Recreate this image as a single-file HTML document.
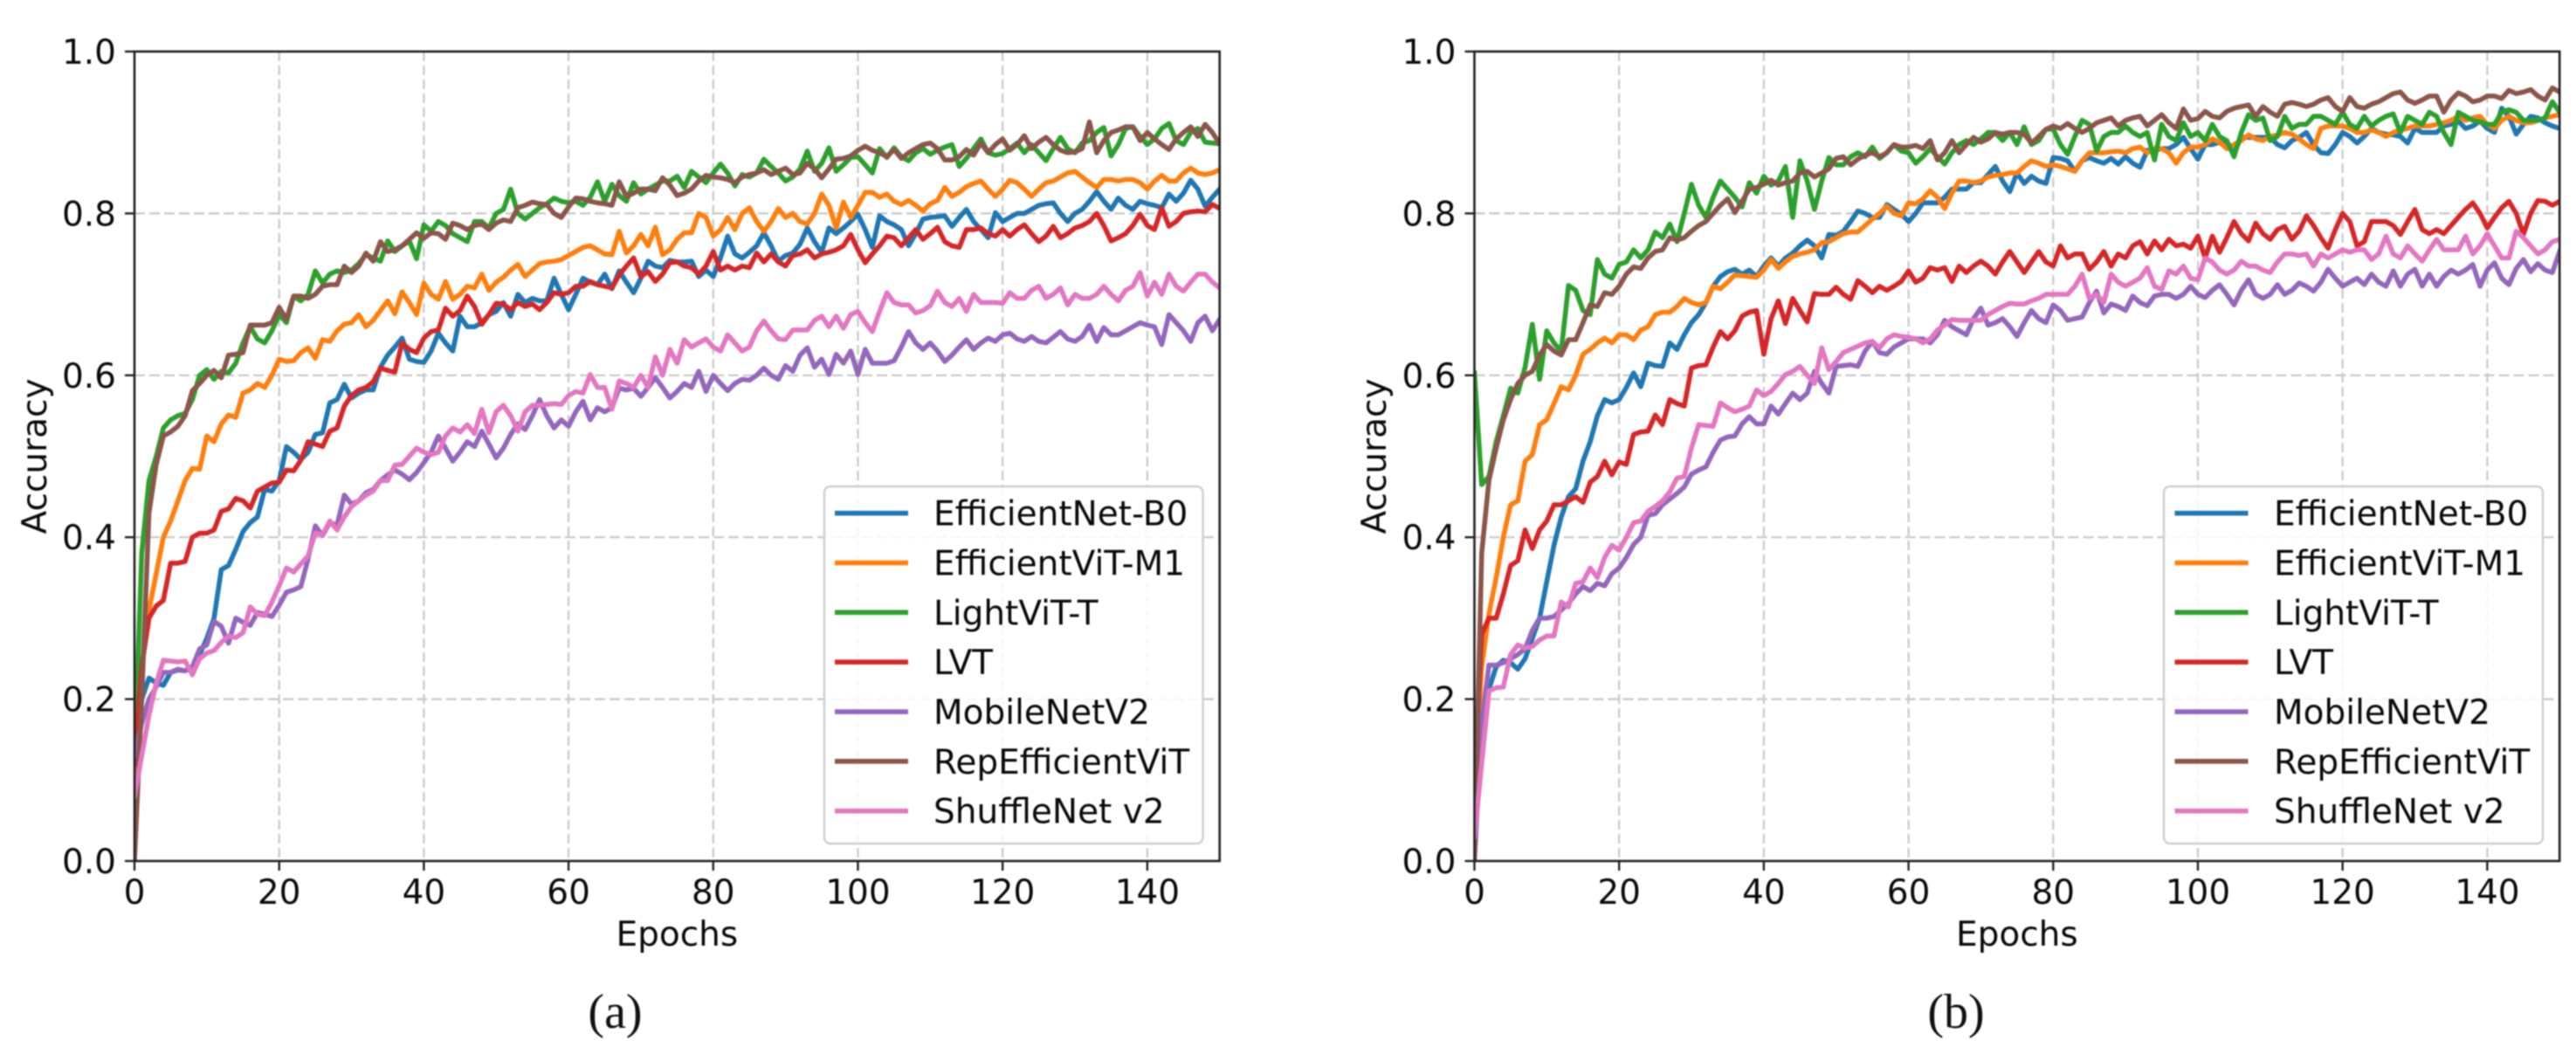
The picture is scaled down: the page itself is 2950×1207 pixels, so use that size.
<!DOCTYPE html>
<html lang="en">
<head>
<meta charset="utf-8">
<title>Accuracy vs Epochs</title>
<style>
html,body{margin:0;padding:0;background:#fff;width:2950px;height:1207px;overflow:hidden}
svg{display:block;filter:blur(0.9px)}
text{font-family:"DejaVu Sans","Liberation Sans",sans-serif;fill:#0a0a0a}
text.caption{font-family:"Liberation Serif",serif;fill:#111}
</style>
</head>
<body>
<svg id="fig" xmlns="http://www.w3.org/2000/svg" width="2950" height="1207" viewBox="0 0 2950 1207">
<rect width="2950" height="1207" fill="#fff"/>
</svg>
<script>
const seriesNames = ["EfficientNet-B0","EfficientViT-M1","LightViT-T","LVT","MobileNetV2","RepEfficientViT","ShuffleNet v2"];
const epochTicks = [0,20,40,60,80,100,120,140];
const accuracyTicks = [0.0,0.2,0.4,0.6,0.8,1.0];
const accuracyTickLabels = ["0.0","0.2","0.4","0.6","0.8","1.0"];
const panelCaptions = ["(a)","(b)"];

/* Panel (a) accuracy per epoch, index = epoch 0..150 */
const efficientNetB0A = [
.13,.2,.226,.22,.217,.233,.236,.235,.24,.255,
.275,.30,.36,.365,.385,.407,.418,.425,.459,.457,
.47,.512,.505,.496,.505,.527,.529,.566,.57,.589,
.572,.578,.582,.582,.61,.625,.635,.646,.62,.617,
.616,.63,.652,.64,.63,.673,.66,.66,.665,.675,
.679,.69,.673,.70,.69,.695,.692,.692,.72,.70,
.681,.70,.72,.715,.712,.725,.707,.729,.715,.702,
.72,.741,.735,.733,.742,.74,.74,.741,.722,.73,
.722,.745,.772,.75,.745,.752,.76,.776,.76,.741,
.748,.751,.762,.782,.765,.752,.782,.775,.782,.79,
.799,.78,.758,.797,.79,.786,.78,.76,.775,.793,
.795,.796,.797,.784,.795,.805,.79,.78,.77,.801,
.79,.795,.80,.80,.805,.81,.812,.813,.80,.79,
.80,.805,.815,.827,.815,.805,.819,.81,.805,.815,
.812,.81,.807,.824,.815,.825,.841,.83,.809,.82,.83];
const efficientViTM1A = [
.08,.24,.31,.355,.40,.42,.445,.47,.485,.484,
.525,.518,.54,.551,.548,.578,.582,.59,.585,.60,
.62,.617,.618,.628,.634,.621,.644,.642,.655,.663,
.665,.675,.66,.668,.68,.692,.676,.703,.69,.675,
.714,.70,.694,.716,.694,.70,.71,.708,.725,.705,
.715,.721,.73,.737,.722,.73,.738,.74,.741,.743,
.748,.753,.758,.76,.755,.75,.749,.778,.751,.76,
.774,.76,.783,.749,.755,.768,.776,.776,.80,.795,
.772,.78,.795,.78,.80,.807,.79,.778,.79,.806,
.795,.80,.79,.787,.80,.824,.81,.782,.814,.795,
.81,.826,.826,.82,.824,.815,.811,.816,.81,.803,
.812,.816,.832,.821,.826,.833,.837,.84,.83,.821,
.83,.841,.838,.83,.821,.83,.838,.84,.845,.85,
.852,.845,.838,.832,.842,.842,.84,.842,.842,.838,
.83,.84,.847,.84,.84,.85,.856,.85,.848,.85,.854];
const lightViTTA = [
.12,.38,.47,.50,.535,.545,.55,.553,.57,.60,
.607,.595,.605,.603,.615,.64,.66,.645,.64,.655,
.675,.665,.698,.692,.70,.729,.714,.725,.729,.727,
.73,.738,.749,.745,.741,.766,.753,.76,.766,.744,
.786,.778,.79,.785,.775,.77,.765,.79,.79,.782,
.80,.805,.83,.80,.793,.80,.807,.812,.819,.815,
.813,.815,.81,.82,.839,.815,.836,.822,.815,.838,
.824,.83,.835,.84,.84,.846,.832,.852,.845,.838,
.85,.861,.85,.834,.848,.845,.85,.867,.858,.85,
.84,.845,.855,.877,.852,.862,.881,.852,.86,.869,
.87,.86,.85,.88,.869,.881,.87,.865,.875,.88,
.873,.878,.882,.885,.858,.868,.88,.892,.875,.872,
.874,.88,.887,.875,.885,.875,.865,.88,.894,.88,
.875,.887,.89,.90,.906,.871,.885,.905,.907,.895,
.885,.892,.905,.911,.89,.885,.90,.905,.888,.887,.886];
const lvtA = [
.12,.24,.30,.315,.322,.368,.368,.37,.40,.405,
.405,.409,.432,.435,.448,.445,.436,.457,.462,.467,
.468,.483,.482,.495,.518,.515,.512,.531,.535,.562,
.575,.582,.585,.592,.609,.606,.604,.64,.632,.628,
.646,.654,.656,.683,.673,.68,.698,.685,.663,.675,
.689,.688,.681,.69,.685,.688,.681,.69,.702,.70,
.702,.71,.71,.716,.712,.71,.708,.724,.735,.745,
.722,.728,.716,.725,.739,.74,.735,.733,.725,.735,
.753,.73,.735,.73,.735,.733,.751,.74,.75,.74,
.735,.748,.75,.755,.745,.75,.752,.755,.76,.774,
.755,.739,.75,.76,.772,.77,.76,.77,.78,.768,
.775,.783,.765,.76,.758,.78,.78,.782,.775,.772,
.78,.772,.78,.786,.775,.765,.772,.784,.77,.775,
.782,.785,.79,.80,.785,.766,.77,.775,.785,.799,
.785,.78,.807,.784,.79,.80,.802,.803,.802,.811,.806];
const mobileNetV2A = [
.13,.17,.20,.215,.233,.233,.237,.235,.24,.262,
.267,.296,.29,.269,.30,.295,.291,.307,.305,.302,
.316,.332,.335,.339,.373,.414,.402,.418,.415,.452,
.441,.445,.455,.459,.47,.477,.483,.478,.471,.48,
.492,.505,.525,.51,.494,.505,.518,.512,.531,.515,
.498,.51,.527,.54,.533,.55,.57,.55,.535,.545,
.537,.555,.568,.545,.56,.555,.56,.584,.582,.584,
.574,.585,.597,.585,.572,.58,.59,.585,.605,.58,
.60,.59,.581,.59,.595,.594,.60,.609,.60,.595,
.612,.605,.625,.634,.61,.62,.601,.626,.615,.63,
.601,.632,.615,.615,.615,.618,.635,.654,.64,.632,
.64,.63,.617,.625,.635,.644,.632,.64,.646,.642,
.65,.652,.645,.642,.648,.642,.64,.647,.654,.645,
.642,.648,.662,.642,.659,.65,.65,.655,.66,.665,
.662,.66,.638,.675,.665,.655,.642,.665,.673,.655,.669];
const repEfficientViTA = [
.0,.2,.43,.49,.525,.53,.537,.55,.581,.59,
.60,.606,.597,.625,.626,.628,.662,.662,.662,.665,
.684,.669,.698,.698,.695,.70,.71,.712,.712,.735,
.727,.735,.751,.741,.765,.753,.755,.76,.768,.776,
.769,.776,.775,.768,.788,.785,.78,.785,.787,.78,
.788,.792,.79,.807,.81,.814,.812,.811,.80,.795,
.808,.819,.818,.815,.813,.812,.81,.839,.821,.825,
.83,.83,.828,.844,.835,.822,.825,.83,.84,.847,
.845,.844,.842,.838,.845,.848,.85,.854,.848,.852,
.856,.848,.85,.862,.855,.844,.855,.867,.868,.871,
.878,.883,.878,.875,.87,.879,.868,.875,.88,.885,
.887,.88,.866,.866,.87,.879,.872,.887,.875,.885,
.892,.878,.885,.896,.88,.888,.894,.885,.878,.875,
.876,.88,.913,.875,.89,.90,.903,.907,.907,.89,
.90,.892,.885,.879,.892,.90,.907,.895,.91,.90,.886];
const shuffleNetV2A = [
.08,.13,.18,.22,.248,.247,.246,.247,.23,.25,
.257,.26,.27,.278,.276,.282,.314,.305,.303,.32,
.34,.362,.357,.367,.377,.405,.403,.42,.409,.425,
.438,.445,.452,.457,.47,.47,.489,.49,.50,.51,
.505,.502,.505,.525,.535,.53,.539,.528,.558,.529,
.555,.563,.55,.531,.555,.563,.563,.564,.565,.564,
.575,.58,.578,.601,.585,.585,.558,.593,.59,.585,
.60,.585,.623,.60,.632,.615,.644,.635,.64,.645,
.635,.63,.65,.64,.63,.635,.655,.667,.655,.645,
.644,.656,.656,.656,.668,.673,.66,.673,.658,.675,
.679,.665,.654,.679,.702,.69,.687,.687,.677,.68,
.686,.704,.69,.685,.695,.679,.70,.69,.69,.69,
.689,.702,.695,.695,.705,.71,.695,.70,.708,.687,
.70,.695,.695,.70,.71,.70,.692,.705,.71,.727,
.698,.715,.70,.725,.71,.704,.715,.725,.725,.715,.708];

/* Panel (b) accuracy per epoch, index = epoch 0..150 */
const efficientNetB0B = [
.09,.19,.212,.24,.248,.245,.237,.25,.275,.30,
.345,.39,.425,.45,.46,.494,.518,.55,.57,.566,
.57,.585,.603,.586,.615,.612,.611,.64,.632,.65,
.665,.675,.69,.71,.722,.728,.731,.725,.73,.722,
.735,.745,.735,.745,.751,.76,.767,.76,.745,.774,
.773,.778,.79,.803,.80,.795,.795,.811,.805,.799,
.79,.80,.813,.813,.813,.82,.83,.83,.83,.838,
.838,.848,.858,.84,.827,.85,.837,.846,.84,.837,
.869,.868,.865,.852,.865,.869,.865,.862,.868,.861,
.87,.862,.857,.878,.878,.88,.88,.885,.894,.88,
.867,.885,.885,.888,.885,.875,.894,.894,.894,.894,
.894,.885,.881,.89,.894,.90,.885,.875,.874,.885,
.90,.895,.887,.895,.905,.90,.898,.897,.895,.887,
.905,.90,.90,.90,.908,.91,.914,.905,.908,.914,
.905,.90,.93,.92,.898,.91,.92,.918,.912,.908,.905];
const efficientViTM1B = [
.09,.24,.305,.35,.40,.44,.445,.494,.502,.539,
.545,.565,.586,.582,.60,.626,.632,.64,.646,.64,
.65,.65,.644,.656,.66,.675,.678,.678,.685,.695,
.69,.687,.69,.71,.707,.715,.724,.723,.722,.721,
.73,.743,.732,.74,.747,.75,.752,.755,.764,.765,
.77,.775,.777,.777,.785,.793,.80,.809,.80,.797,
.813,.812,.818,.828,.82,.806,.825,.84,.84,.838,
.84,.845,.847,.848,.85,.85,.858,.865,.862,.858,
.86,.858,.855,.852,.865,.875,.875,.875,.876,.877,
.875,.88,.882,.875,.88,.88,.875,.862,.875,.882,
.882,.885,.892,.888,.88,.885,.89,.897,.892,.89,
.895,.897,.90,.898,.892,.885,.88,.905,.908,.908,
.908,.905,.90,.90,.903,.90,.895,.90,.903,.905,
.908,.908,.908,.91,.912,.915,.92,.915,.918,.92,
.91,.905,.915,.92,.915,.912,.912,.915,.918,.92,.922];
const lightViTTB = [
.603,.465,.475,.518,.55,.584,.578,.61,.663,.595,
.655,.64,.63,.711,.705,.68,.675,.743,.725,.72,
.737,.74,.755,.745,.755,.777,.77,.787,.765,.80,
.836,.81,.795,.82,.84,.83,.82,.808,.838,.825,
.846,.835,.84,.858,.795,.865,.84,.805,.84,.869,
.86,.86,.87,.875,.87,.882,.868,.875,.885,.877,
.875,.862,.87,.88,.87,.861,.875,.885,.89,.885,
.892,.90,.90,.89,.90,.885,.907,.885,.89,.904,
.904,.885,.873,.895,.915,.91,.877,.895,.90,.90,
.908,.90,.895,.90,.866,.91,.895,.89,.912,.895,
.90,.89,.91,.895,.89,.87,.90,.922,.915,.918,
.89,.895,.92,.905,.91,.91,.92,.92,.915,.91,
.925,.91,.905,.92,.908,.915,.92,.923,.90,.92,
.915,.91,.925,.92,.90,.885,.925,.92,.915,.913,
.91,.91,.925,.928,.925,.915,.915,.915,.918,.938,.925];
const lvtB = [
.1,.28,.30,.30,.33,.365,.371,.409,.386,.409,
.42,.44,.44,.445,.45,.443,.468,.475,.494,.477,
.493,.49,.527,.53,.531,.551,.539,.57,.565,.562,
.609,.612,.613,.635,.654,.645,.655,.673,.678,.68,
.626,.67,.692,.664,.695,.68,.666,.701,.70,.70,
.709,.70,.694,.717,.71,.702,.71,.705,.71,.716,
.729,.715,.72,.733,.73,.733,.716,.735,.727,.735,
.741,.735,.725,.74,.753,.74,.727,.74,.753,.74,
.735,.76,.745,.75,.75,.731,.74,.753,.735,.75,
.745,.76,.765,.75,.766,.755,.768,.76,.762,.757,
.772,.745,.772,.752,.77,.79,.775,.766,.788,.775,
.768,.78,.784,.768,.778,.797,.785,.77,.757,.78,
.80,.79,.76,.765,.79,.79,.79,.785,.774,.79,
.805,.78,.775,.78,.775,.785,.795,.805,.813,.80,
.782,.795,.807,.815,.80,.774,.80,.816,.815,.81,.815];
const mobileNetV2B = [
.0,.17,.242,.242,.245,.25,.255,.262,.285,.30,
.30,.302,.31,.318,.33,.339,.334,.343,.34,.355,
.362,.375,.391,.40,.427,.429,.44,.447,.454,.462,
.478,.483,.487,.505,.52,.524,.525,.54,.549,.54,
.54,.562,.552,.565,.578,.57,.578,.605,.59,.578,
.611,.612,.613,.611,.63,.642,.628,.626,.635,.64,
.645,.645,.645,.64,.65,.668,.66,.655,.65,.67,
.683,.662,.665,.67,.66,.648,.665,.68,.67,.665,
.687,.68,.668,.67,.672,.69,.704,.677,.688,.685,
.68,.698,.69,.686,.698,.70,.70,.695,.70,.71,
.70,.696,.705,.712,.70,.687,.705,.718,.70,.695,
.70,.712,.70,.705,.714,.71,.704,.715,.731,.72,
.71,.715,.72,.712,.725,.715,.71,.729,.71,.725,
.731,.71,.725,.71,.722,.73,.725,.73,.737,.71,
.73,.739,.72,.712,.732,.743,.728,.738,.73,.727,.753];
const repEfficientViTB = [
.0,.38,.47,.51,.545,.57,.59,.60,.605,.625,
.638,.63,.625,.644,.644,.665,.687,.685,.702,.70,
.71,.725,.734,.732,.745,.753,.755,.77,.767,.77,
.778,.785,.79,.80,.81,.818,.801,.815,.83,.832,
.836,.841,.835,.838,.84,.85,.852,.845,.85,.855,
.868,.87,.86,.867,.872,.875,.87,.875,.885,.882,
.882,.884,.88,.89,.866,.875,.89,.875,.885,.894,
.888,.892,.90,.898,.90,.90,.898,.887,.895,.904,
.908,.905,.911,.905,.90,.905,.912,.915,.918,.908,
.915,.918,.92,.908,.915,.922,.912,.905,.929,.915,
.917,.926,.92,.918,.926,.93,.932,.934,.92,.932,
.925,.92,.935,.937,.935,.932,.935,.94,.943,.932,
.926,.943,.932,.93,.935,.938,.943,.948,.95,.94,
.936,.94,.945,.945,.925,.94,.949,.945,.938,.94,
.945,.945,.942,.952,.948,.95,.953,.945,.94,.955,.95];
const shuffleNetV2B = [
.03,.12,.21,.214,.215,.255,.267,.263,.265,.273,
.278,.278,.32,.314,.343,.345,.362,.35,.375,.39,
.384,.40,.418,.42,.432,.438,.445,.456,.473,.475,
.51,.539,.538,.537,.566,.56,.555,.558,.562,.582,
.575,.58,.59,.601,.605,.611,.60,.59,.634,.607,
.617,.628,.632,.636,.64,.642,.634,.645,.65,.648,
.647,.645,.64,.645,.656,.662,.669,.668,.668,.668,
.668,.675,.68,.685,.689,.688,.688,.692,.695,.70,
.70,.70,.70,.71,.725,.695,.70,.69,.725,.715,
.71,.715,.72,.733,.71,.706,.729,.725,.735,.72,
.718,.745,.74,.73,.725,.73,.741,.735,.735,.73,
.727,.74,.75,.75,.748,.75,.735,.75,.745,.75,
.755,.752,.755,.755,.743,.75,.772,.75,.745,.76,
.75,.741,.755,.768,.755,.755,.755,.772,.75,.76,
.775,.76,.745,.745,.778,.77,.76,.75,.755,.765,.768];

const seriesColors = ["#1f77b4","#ff7f0e","#2ca02c","#d62728","#9467bd","#8c564b","#e377c2"];
const panelSeries = [
  [efficientNetB0A,efficientViTM1A,lightViTTA,lvtA,mobileNetV2A,repEfficientViTA,shuffleNetV2A],
  [efficientNetB0B,efficientViTM1B,lightViTTB,lvtB,mobileNetV2B,repEfficientViTB,shuffleNetV2B]
];

const SVGNS = "http://www.w3.org/2000/svg";
const fig = document.getElementById("fig");
function make(tag, attrs, parent, txt){
  const el = document.createElementNS(SVGNS, tag);
  for(const k in attrs) el.setAttribute(k, attrs[k]);
  if(txt !== undefined) el.textContent = txt;
  parent.appendChild(el);
  return el;
}
const EPOCH_MAX = 150;
const PLOT_TOP = 59, PLOT_BOTTOM = 986;
const plotWidth = 1242.7;
function yScale(v){ return PLOT_BOTTOM - v * (PLOT_BOTTOM - PLOT_TOP); }
function xScale(e, left){ return left + e / EPOCH_MAX * plotWidth; }

function drawPanel(idx, left, legendLeft, legendWidth, legendLineX, legendTextX, captionX, yLabelX){
  const right = left + plotWidth;
  const tag = idx === 0 ? "a" : "b";

  const panel = make("g", {}, fig);
  
  

  const clip = make("clipPath", {id:"clip-" + tag}, panel);
  make("rect", {x:left, y:PLOT_TOP, width:plotWidth, height:PLOT_BOTTOM-PLOT_TOP}, clip);

  epochTicks.forEach(function(t){
    const px = xScale(t, left);
    if(t > 0){
      const g = make("line", {x1:px, x2:px, y1:PLOT_TOP, y2:PLOT_BOTTOM, stroke:"#c8c8c8", "stroke-width":2.2, "stroke-dasharray":"11 5"}, panel);
      
      
    }
    const m = make("line", {x1:px, x2:px, y1:PLOT_BOTTOM, y2:PLOT_BOTTOM+11, stroke:"#222", "stroke-width":2.4}, panel);
    
    
    const l = make("text", {x:px, y:1035, "text-anchor":"middle", "font-size":39}, panel, String(t));
    
    
  });

  accuracyTicks.forEach(function(t, i){
    const py = yScale(t);
    if(t > 0 && t < 1){
      const g = make("line", {x1:left, x2:right, y1:py, y2:py, stroke:"#c8c8c8", "stroke-width":2.2, "stroke-dasharray":"12 5"}, panel);
      
      
    }
    const m = make("line", {x1:left-11, x2:left, y1:py, y2:py, stroke:"#222", "stroke-width":2.4}, panel);
    
    
    const l = make("text", {x:left-21, y:py+14, "text-anchor":"end", "font-size":39}, panel, accuracyTickLabels[i]);
    
    
  });

  const linesGroup = make("g", {"clip-path":"url(#clip-" + tag + ")"}, panel);
  
  
  panelSeries[idx].forEach(function(values, s){
    const pts = values.map(function(v, e){ return xScale(e, left).toFixed(1) + "," + yScale(v).toFixed(1); }).join(" ");
    const line = make("polyline", {points:pts, fill:"none", stroke:seriesColors[s], "stroke-width":5.6, "stroke-linejoin":"round", "stroke-linecap":"square"}, linesGroup);
    
    
  });

  const frame = make("rect", {x:left, y:PLOT_TOP, width:plotWidth, height:PLOT_BOTTOM-PLOT_TOP, fill:"none", stroke:"#222", "stroke-width":2.6}, panel);
  
  

  const xTitle = make("text", {x:(left+right)/2, y:1083, "text-anchor":"middle", "font-size":39}, panel, "Epochs");
  
  

  const yTitle = make("text", {transform:"translate(" + yLabelX + "," + ((PLOT_TOP+PLOT_BOTTOM)/2) + ") rotate(-90)", "text-anchor":"middle", "font-size":39}, panel, "Accuracy");
  
  

  const legend = make("g", {}, panel);
  
  
  const box = make("rect", {x:legendLeft, y:557, width:legendWidth, height:409, rx:7, ry:7, fill:"#fff", "fill-opacity":0.85, stroke:"#d0d0d0", "stroke-width":2.5}, legend);
  
  
  seriesNames.forEach(function(name, s){
    const ly = 587.7 + s * 56.83;
    const sw = make("line", {x1:legendLineX, x2:legendLineX+84, y1:ly, y2:ly, stroke:seriesColors[s], "stroke-width":5.6}, legend);
    
    
    const lt = make("text", {x:legendTextX, y:ly+14, "font-size":39}, legend, name);
    
    
  });

  const cap = make("text", {x:captionX, y:1177, "text-anchor":"middle", "font-size":56, "class":"caption"}, panel, panelCaptions[idx]);
  
  
}

drawPanel(0, 154, 944, 433.5, 956, 1069, 704.5, 53);
drawPanel(1, 1688.5, 2478, 434, 2490.5, 2604, 2240, 1587);
</script>
</body>
</html>
